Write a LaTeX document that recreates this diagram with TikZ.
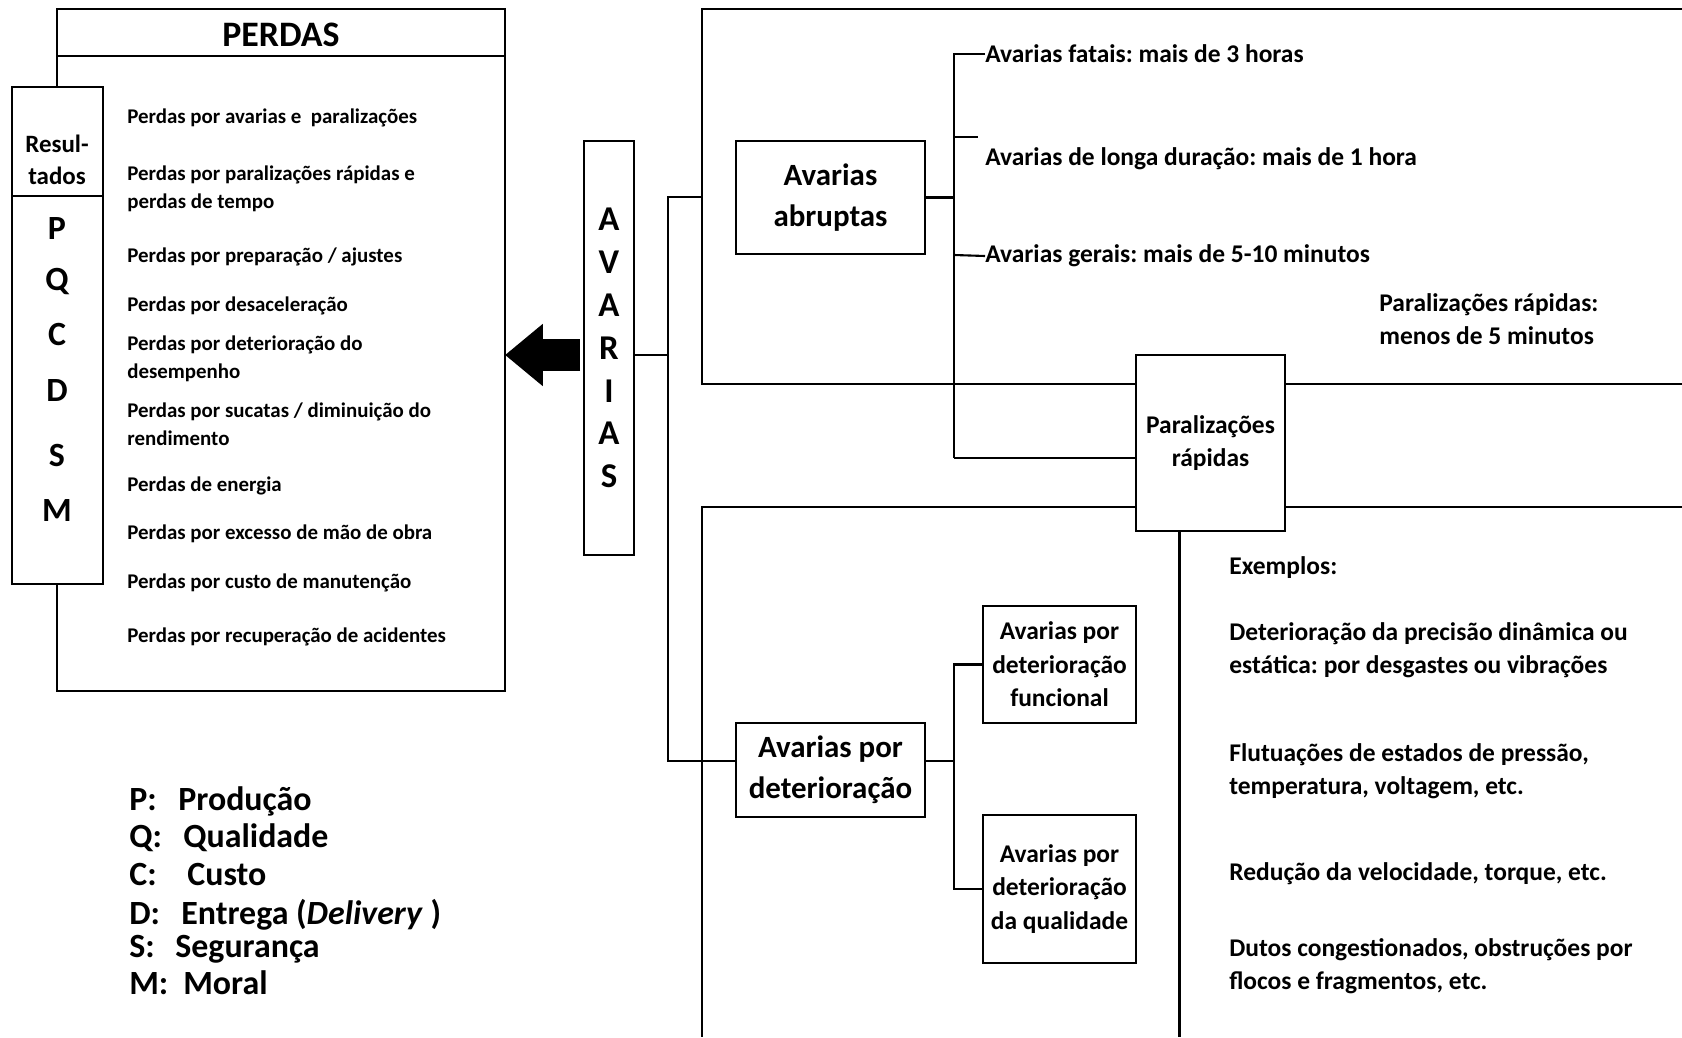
\documentclass[tikz,border=0pt]{standalone}
\usepackage{fontspec}
\setmainfont{Carlito}
\usepackage{tikz}
\usetikzlibrary{arrows.meta}
\usetikzlibrary{calc,positioning}
\frenchspacing

\newlength{\upx}\setlength{\upx}{0.02cm}
\newcommand{\ftitulo}{\fontsize{20.4}{24}\selectfont\bfseries}
\newcommand{\fitem}{\fontsize{11.9}{15.9}\selectfont\bfseries}
\newcommand{\fres}{\fontsize{14.2}{18}\selectfont\bfseries}
\newcommand{\fletra}{\fontsize{19.3}{23}\selectfont\bfseries}
\newcommand{\fvert}{\fontsize{19.8}{24.4}\selectfont\bfseries}
\newcommand{\fnota}{\fontsize{14.5}{18.7}\selectfont\bfseries}
\newcommand{\fgrande}{\fontsize{17.6}{23.2}\selectfont\bfseries}
\newcommand{\fcaixa}{\fontsize{14.5}{19}\selectfont\bfseries}
\newcommand{\flegenda}{\fontsize{19.3}{23}\selectfont\bfseries}

\tikzset{
  caixa/.style={draw, line width=1.2pt, fill=white, inner sep=0pt, outer sep=0pt,
    anchor=north west, align=center},
  linha/.style={draw, line width=1.2pt},
  texto/.style={anchor=west, inner sep=0pt, align=left},
  seta/.style={line width=18pt, -{Triangle[length=21.5pt,width=34pt]}},
}

\begin{document}
\begin{tikzpicture}[x=0.02cm, y=-0.02cm]
			\useasboundingbox (0,0) rectangle (1682,1037);

			% perdas
			\node[caixa, minimum width=448\upx, minimum height=682\upx] (perdas) at (57,9) {};
			\draw[linha] (perdas.north west) ++(0,47) -- ++(448,0);
			\node[font=\ftitulo] (titulo) at (281,35) {PERDAS};
			\foreach \y/\t [count=\i] in {118/{Perdas por avarias e~~paralizações},
				189/{Perdas por paralizações rápidas e\\perdas de tempo},
				257/{Perdas por preparação / ajustes},
				306/{Perdas por desaceleração},
				359/{Perdas por deterioração do\\desempenho},
				424/{Perdas por sucatas / diminuição do\\rendimento},
				486/{Perdas de energia},
				534/{Perdas por excesso de mão de obra},
				583/{Perdas por custo de manutenção},
				637/{Perdas por recuperação de acidentes}}
				\node[texto, font=\fitem] (p\i) at (127,\y) {\t};

			% resultados
			\node[caixa, minimum width=91\upx, minimum height=109\upx] (resul) at (12,87) {};
			\node[font=\fres, align=center] (resultxt) at (57,160) {Resul-\\tados};
			\node[caixa, minimum width=91\upx, minimum height=388\upx] (letras) at (12,196) {};
			\foreach \y/\l in {229/P,282/Q,334/C,391/D,455/S,511/M}
				\node[font=\fletra] (l\l) at (57,\y) {\l};

			% avarias
			\node[caixa, minimum width=50\upx, minimum height=414\upx, font=\fvert] (avarias) at (584,141)
				{A\\V\\A\\R\\I\\A\\S};
			\coordinate (s0) at ($(avarias.west)+(-4,7)$);
			\draw[seta] (s0) -- (perdas.east |- s0);

			% quadros
			\draw[linha] (1682,9) -| (702,384) -- (1682,384);
			\draw[linha] (1682,507) -| (702,1037);

			\node[caixa, minimum width=189\upx, minimum height=113\upx, font=\fgrande] (abrup) at (736,141)
				{Avarias\\abruptas};
			\node[caixa, minimum width=189\upx, minimum height=94\upx, font=\fgrande] (deter) at (736,723)
				{Avarias por\\deterioração};
			\node[caixa, minimum width=153\upx, minimum height=117\upx, font=\fcaixa] (func) at (983,606)
				{Avarias por\\deterioração\\funcional};
			\node[caixa, minimum width=153\upx, minimum height=148\upx, font=\fcaixa] (qual) at (983,815)
				{Avarias por\\deterioração\\da qualidade};

			% ramos
			\coordinate (ramo) at ($(avarias.east)+(34,7)$);
			\draw[linha] (avarias.east |- ramo) -- (ramo);
			\draw[linha] (702,197) -| (ramo) |- ($(deter.west)+(0,-9)$);

			\node[texto, font=\fnota] (t1) at (985,54) {Avarias fatais: mais de 3 horas};
			\node[texto, font=\fnota] (t2) at (985,159) {Avarias de longa duração: mais de 1 hora};
			\node[texto, font=\fnota] (t3) at (985,256) {Avarias gerais: mais de 5-10 minutos};
			\coordinate (ab) at ($(abrup.east)+(29,0)$);
			\draw[linha] (abrup.east) -- (ab);
			\draw[linha] (t1.west) -| (954,458);
			\draw[linha] (954,137) -- (978,137);
			\draw[linha] (954,255) -- (t3.west);
			\draw[linha] (954,458) -- (1136,458);

			\node[caixa, minimum width=149\upx, minimum height=176\upx, font=\fcaixa] (paral) at (1136,355)
				{Paralizações\\rápidas};
			\draw[linha] ($(paral.south)+(-31,0)$) -- ++(0,506);
			\node[texto, font=\fnota] (nota) at (1379,319) {Paralizações rápidas:\\menos de 5 minutos};

			\coordinate (db) at ($(deter.east)+(29,-9)$);
			\draw[linha] ($(deter.east)+(0,-9)$) -- (db);
			\draw[linha] (func.west) -| (db) |- (qual.west);

			% exemplos
			\node[texto, font=\fnota] (ex0) at (1229,568) {Exemplos:};
			\node[texto, font=\fnota] (ex1) at (1229,650) {Deterioração da precisão dinâmica ou\\estática: por desgastes ou vibrações};
			\node[texto, font=\fnota] (ex2) at (1229,771) {Flutuações de estados de pressão,\\temperatura, voltagem, etc.};
			\node[texto, font=\fnota] (ex3) at (1229,874) {Redução da velocidade, torque, etc.};
			\node[texto, font=\fnota] (ex4) at (1229,966) {Dutos congestionados, obstruções por\\flocos e fragmentos, etc.};

			% legenda
			\foreach \y/\k/\xv/\v in {810/P/178/Produção, 847/Q/183/Qualidade, 885/C/187/Custo,
				924/D/181/{Entrega (\textit{Delivery} )}, 957/S/175/Segurança, 994/M/183/Moral} {
				\node[texto, anchor=base west, font=\flegenda] (k\k) at (129,\y) {\k:};
				\node[texto, anchor=base west, font=\flegenda] (v\k) at (\xv,\y) {\v};
			}
		\end{tikzpicture}
\end{document}
